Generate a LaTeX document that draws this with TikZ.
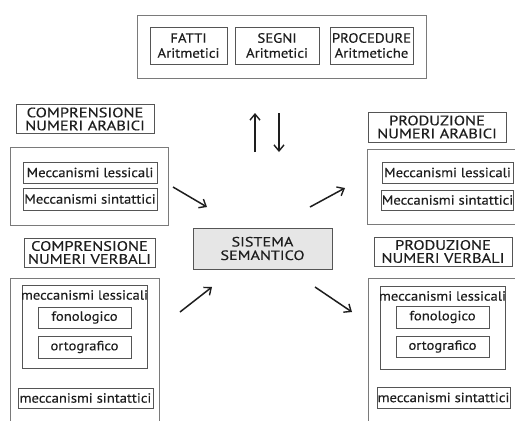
\documentclass[tikz,border=0pt]{standalone}
\usepackage{fontspec}
\setmainfont{PT Sans}
\newfontfamily\bodyfont[FakeStretch=1.1,FakeBold=0.3]{PT Sans}
\newfontfamily\capfont[FakeStretch=1.2,FakeBold=0.3]{PT Sans}
\usetikzlibrary{arrows.meta}
\definecolor{framegray}{HTML}{7A7A7A}
\definecolor{boxgray}{HTML}{555555}
\definecolor{inkgray}{HTML}{1E1E1E}
\definecolor{semfill}{HTML}{E6E6E6}
\tikzset{
  frame/.style={draw=framegray, line width=0.9pt, inner sep=0pt},
  box/.style={draw=boxgray, line width=0.9pt, inner sep=0pt, align=center,
    text=inkgray},
  captxt/.style={font=\capfont\fontsize{13.7}{13}\selectfont},
  toptxt/.style={font=\bodyfont\fontsize{13.5}{15}\selectfont},
  mechtxt/.style={font=\bodyfont\fontsize{13.3}{14}\selectfont},
  semtxt/.style={font=\capfont\fontsize{13.5}{13.5}\selectfont},
  flow/.style={draw=inkgray, line width=1.5pt,
    -{Straight Barb[length=6pt,width=10pt,line width=1.4pt]}},
}
\begin{document}
\begin{tikzpicture}[x=1pt,y=-1pt]
\clip (0,0) rectangle (515,421);
\fill[white] (0,0) rectangle (515,421);

% arithmetic modules on top
\node[frame, minimum width=289, minimum height=63] (arith) at (281.5,46.5) {};
\node[box, toptxt, minimum width=77, minimum height=37] (fatti) at (188.5,45.5) {FATTI\\Aritmetici};
\node[box, toptxt, minimum width=84, minimum height=37] (segni) at (277,45.5) {SEGNI\\Aritmetici};
\node[box, toptxt, minimum width=83, minimum height=37] (proc) at (371.5,45.5) {PROCEDURE\\Aritmetiche};

% comprehension of arabic numerals
\node[box, captxt, minimum width=138, minimum height=29] (cnaLab) at (85,119) {COMPRENSIONE\\NUMERI ARABICI};
\node[frame, minimum width=158, minimum height=78] (cna) at (89,186) {};
\node[box, mechtxt, minimum width=134, minimum height=21] (cnaLes) at (90,172.5) {Meccanismi lessicali};
\node[box, mechtxt, minimum width=134, minimum height=22] (cnaSin) at (90,199) {Meccanismi sintattici};

% comprehension of verbal numerals
\node[box, captxt, minimum width=131, minimum height=29] (cnvLab) at (89.5,252.5) {COMPRENSIONE\\NUMERI VERBALI};
\node[frame, minimum width=149, minimum height=152] (cnv) at (84.5,354) {};
\node[box, minimum width=125, minimum height=83] (cnvLes) at (84.5,326.5) {};
\node[mechtxt, text=inkgray, inner sep=0pt] (cnvLesT) at (84.5,295) {meccanismi lessicali};
\node[box, mechtxt, minimum width=93, minimum height=21] (cnvFon) at (84.5,317.5) {fonologico};
\node[box, mechtxt, minimum width=93, minimum height=22] (cnvOrt) at (84.5,347) {ortografico};
\node[box, mechtxt, minimum width=135, minimum height=20] (cnvSin) at (85.5,398) {meccanismi sintattici};

% production of arabic numerals
\node[box, captxt, minimum width=138, minimum height=30] (pnaLab) at (437,127) {PRODUZIONE\\NUMERI ARABICI};
\node[frame, minimum width=163, minimum height=75] (pna) at (448.5,186.5) {};
\node[box, mechtxt, minimum width=131, minimum height=21] (pnaLes) at (447.5,172.5) {Meccanismi lessicali};
\node[box, mechtxt, minimum width=131, minimum height=20] (pnaSin) at (447.5,200) {Meccanismi sintattici};

% production of verbal numerals
\node[box, captxt, minimum width=138, minimum height=29] (pnvLab) at (443,251.5) {PRODUZIONE\\NUMERI VERBALI};
\node[frame, minimum width=162, minimum height=152] (pnv) at (449,354) {};
\node[box, minimum width=125, minimum height=83] (pnvLes) at (442.5,327.5) {};
\node[mechtxt, text=inkgray, inner sep=0pt] (pnvLesT) at (442.5,296) {meccanismi lessicali};
\node[box, mechtxt, minimum width=93, minimum height=22] (pnvFon) at (442.5,317) {fonologico};
\node[box, mechtxt, minimum width=93, minimum height=21] (pnvOrt) at (442.5,346.5) {ortografico};
\node[box, mechtxt, minimum width=133, minimum height=21] (pnvSin) at (443.5,397.5) {meccanismi sintattici};

% semantic system
\node[box, semtxt, fill=semfill, minimum width=139, minimum height=41] (sem) at (262.5,248.5) {SISTEMA\\SEMANTICO};

% arrow end points
\coordinate (upA) at (255,152);   \coordinate (upB) at (255,113);
\coordinate (dnA) at (279,113);   \coordinate (dnB) at (279,152);
\coordinate (inA1) at (173,187);  \coordinate (inB1) at (207,207);
\coordinate (outA1) at (310,207); \coordinate (outB1) at (345,188);
\coordinate (inA2) at (180,312);  \coordinate (inB2) at (212,287);
\coordinate (outA2) at (315,287); \coordinate (outB2) at (352,312);

\draw[flow] (upA) -- (upB);
\draw[flow] (dnA) -- (dnB);
\draw[flow] (inA1) -- (inB1);
\draw[flow] (outA1) -- (outB1);
\draw[flow] (inA2) -- (inB2);
\draw[flow] (outA2) -- (outB2);
\end{tikzpicture}
\end{document}
